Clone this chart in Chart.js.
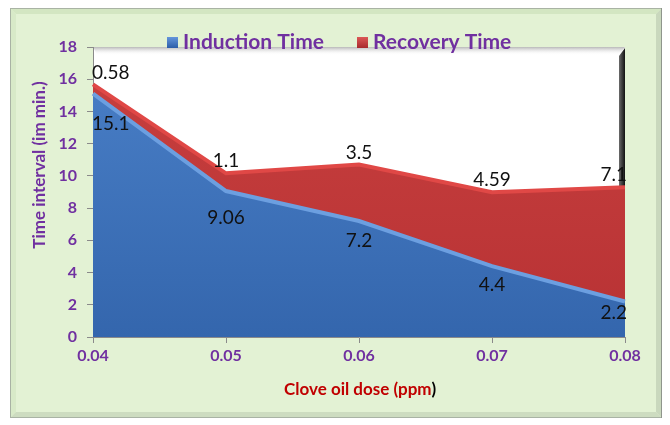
<!DOCTYPE html>
<html>
<head>
<meta charset="utf-8">
<script src="https://cdn.jsdelivr.net/npm/chart.js@4"></script>
<style>
  html, body { margin: 0; padding: 0; background: #ffffff; }
  #wrap { width: 670px; height: 425px; position: relative; }
</style>
</head>
<body>
<div id="wrap"><canvas id="chart" width="670" height="425"></canvas></div>
<script>
// Clove oil dose (ppm) on the x axis
const doses = ['0.04', '0.05', '0.06', '0.07', '0.08'];
// Minutes, stacked: induction at the bottom, recovery on top
const inductionTime = [15.1, 9.06, 7.2, 4.4, 2.2];
const recoveryTime = [0.58, 1.1, 3.5, 4.59, 7.1];
// Value axis
const yMin = 0, yMax = 18, yStep = 2;

// extra vertical push for the induction value labels (px below the point)
const inductionLabelDrop = [30, 27, 20, 19, 11];

const PURPLE = '#7030a0';
const FAMILY = 'Lato, "Open Sans", sans-serif';
const LABEL_FONT = '19px ' + FAMILY;

function blueFill(ctx) {
  const a = ctx.chart.chartArea;
  if (!a) return '#3a6fb6';
  const g = ctx.chart.ctx.createLinearGradient(0, a.top, 0, a.bottom);
  g.addColorStop(0, '#4a80c8');
  g.addColorStop(1, '#3466ad');
  return g;
}
function redFill(ctx) {
  const a = ctx.chart.chartArea;
  if (!a) return '#c0393b';
  const g = ctx.chart.ctx.createLinearGradient(0, a.top, 0, a.bottom);
  g.addColorStop(0, '#c8403f');
  g.addColorStop(1, '#b83234');
  return g;
}

// frame, green panel and the white plot wall
const backdrop = {
  id: 'backdrop',
  beforeDraw(chart) {
    const c = chart.ctx, a = chart.chartArea;
    c.save();
    c.fillStyle = '#ffffff';
    c.fillRect(0, 0, chart.width, chart.height);
    // bevelled frame
    const L = 10, T = 8, R = 662, B = 418, bw = 6;
    c.fillStyle = '#e3f2d4';
    c.fillRect(L, T, R - L, B - T);
    c.fillStyle = '#d3e6c2';
    c.beginPath(); c.moveTo(L, T); c.lineTo(R, T); c.lineTo(R - bw, T + bw); c.lineTo(L + bw, T + bw); c.closePath(); c.fill();
    c.fillStyle = '#d8eac8';
    c.beginPath(); c.moveTo(L, T); c.lineTo(L + bw, T + bw); c.lineTo(L + bw, B - bw); c.lineTo(L, B); c.closePath(); c.fill();
    c.fillStyle = '#cddcc0';
    c.beginPath(); c.moveTo(L, B); c.lineTo(L + bw, B - bw); c.lineTo(R - bw, B - bw); c.lineTo(R, B); c.closePath(); c.fill();
    c.fillStyle = '#c9d8bd';
    c.beginPath(); c.moveTo(R, T); c.lineTo(R, B); c.lineTo(R - bw, B - bw); c.lineTo(R - bw, T + bw); c.closePath(); c.fill();
    c.strokeStyle = '#a9b3a4';
    c.lineWidth = 1;
    c.strokeRect(L + 0.5, T + 0.5, R - L - 1, B - T - 1);
    c.strokeStyle = '#8f968c';
    c.beginPath(); c.moveTo(R - 0.5, T); c.lineTo(R - 0.5, B); c.stroke();

    // white plot wall
    c.fillStyle = '#ffffff';
    c.fillRect(a.left, a.top, a.right - a.left, a.bottom - a.top);
    let g = c.createLinearGradient(0, a.top, 0, a.top + 8);
    g.addColorStop(0, '#b8b8b8');
    g.addColorStop(1, 'rgba(255,255,255,0)');
    c.fillStyle = g;
    c.beginPath(); c.moveTo(a.left, a.top); c.lineTo(a.right, a.top); c.lineTo(a.right - 6, a.top + 8); c.lineTo(a.left + 4, a.top + 8); c.closePath(); c.fill();
    // right side wall in shadow
    g = c.createLinearGradient(a.right - 6, 0, a.right, 0);
    g.addColorStop(0, '#6b6b6b');
    g.addColorStop(1, '#111111');
    c.fillStyle = g;
    c.beginPath(); c.moveTo(a.right - 6, a.top + 9); c.lineTo(a.right, a.top + 1); c.lineTo(a.right, a.bottom); c.lineTo(a.right - 6, a.bottom); c.closePath(); c.fill();
    c.restore();
  }
};

// numeric labels on the two series
const valueLabels = {
  id: 'valueLabels',
  afterDatasetsDraw(chart) {
    const c = chart.ctx, a = chart.chartArea;
    const ind = chart.getDatasetMeta(0).data;
    const rec = chart.getDatasetMeta(1).data;
    c.save();
    c.font = LABEL_FONT;
    c.fillStyle = '#111111';
    c.textAlign = 'center';
    c.textBaseline = 'middle';
    const place = (txt, x, y) => {
      const w = c.measureText(txt).width;
      const cx = Math.min(Math.max(x, a.left + w / 2 - 1), a.right + 2 - w / 2);
      c.fillText(txt, cx, y);
    };
    recoveryTime.forEach((v, i) => place(String(v), rec[i].x, rec[i].y - 12));
    inductionTime.forEach((v, i) => place(String(v), ind[i].x, ind[i].y + inductionLabelDrop[i]));
    c.restore();
  }
};

// legend and axis titles
const titles = {
  id: 'titles',
  afterDraw(chart) {
    const c = chart.ctx;
    c.save();
    c.font = 'bold 21px ' + FAMILY;
    c.textBaseline = 'middle';
    c.textAlign = 'left';
    const items = [
      { text: 'Induction Time', x: 167, top: '#6a9be0', bot: '#2c5ea8' },
      { text: 'Recovery Time', x: 357, top: '#e05c5a', bot: '#a82a2c' }
    ];
    const ly = 42;
    items.forEach(it => {
      const g = c.createLinearGradient(0, ly - 6, 0, ly + 6);
      g.addColorStop(0, it.top);
      g.addColorStop(1, it.bot);
      c.fillStyle = g;
      c.fillRect(it.x, ly - 5, 11, 11);
      c.fillStyle = PURPLE;
      c.fillText(it.text, it.x + 16, ly);
    });
    // y title
    c.translate(40, 165);
    c.rotate(-Math.PI / 2);
    c.textAlign = 'center';
    c.font = 'bold 17px ' + FAMILY;
    c.fillStyle = PURPLE;
    c.fillText('Time interval (im min.)', 0, 0);
    c.setTransform(1, 0, 0, 1, 0, 0);
    // x title: dark red text with a black closing bracket
    c.font = 'bold 17px ' + FAMILY;
    c.textAlign = 'left';
    const main = 'Clove oil dose (ppm', tail = ')';
    const w = c.measureText(main + tail).width;
    const x0 = 360 - w / 2;
    c.fillStyle = '#c00000';
    c.fillText(main, x0, 390);
    c.fillStyle = '#000000';
    c.fillText(tail, x0 + c.measureText(main).width, 390);
    c.restore();
  }
};

new Chart(document.getElementById('chart'), {
  type: 'line',
  data: {
    labels: doses,
    datasets: [
      {
        label: 'Induction Time',
        data: inductionTime,
        fill: 'origin',
        backgroundColor: blueFill,
        borderColor: '#6c9fe0',
        borderWidth: 4,
        pointRadius: 0,
        tension: 0
      },
      {
        label: 'Recovery Time',
        data: recoveryTime,
        fill: '-1',
        backgroundColor: redFill,
        borderColor: '#e04846',
        borderWidth: 4,
        pointRadius: 0,
        tension: 0
      }
    ]
  },
  options: {
    responsive: false,
    animation: false,
    layout: { padding: { left: 10, right: 45, top: 47, bottom: 0 } },
    plugins: { legend: { display: false }, tooltip: { enabled: false } },
    scales: {
      x: {
        offset: false,
        grid: { drawOnChartArea: false, drawTicks: true, tickLength: 6, color: '#8a8a8a' },
        border: { display: true, color: '#8a8a8a' },
        ticks: { color: PURPLE, font: { family: FAMILY, size: 16, weight: 'bold' }, padding: 3, maxRotation: 0 },
        afterFit(s) { s.height = 88; }
      },
      y: {
        stacked: true,
        min: yMin,
        max: yMax,
        grid: { drawOnChartArea: false, drawTicks: true, tickLength: 6, color: '#8a8a8a' },
        border: { display: true, color: '#8a8a8a' },
        ticks: { stepSize: yStep, color: PURPLE, font: { family: FAMILY, size: 16, weight: 'bold' }, padding: 10 },
        afterFit(s) { s.width = 83; }
      }
    }
  },
  plugins: [backdrop, valueLabels, titles]
});
</script>
</body>
</html>
